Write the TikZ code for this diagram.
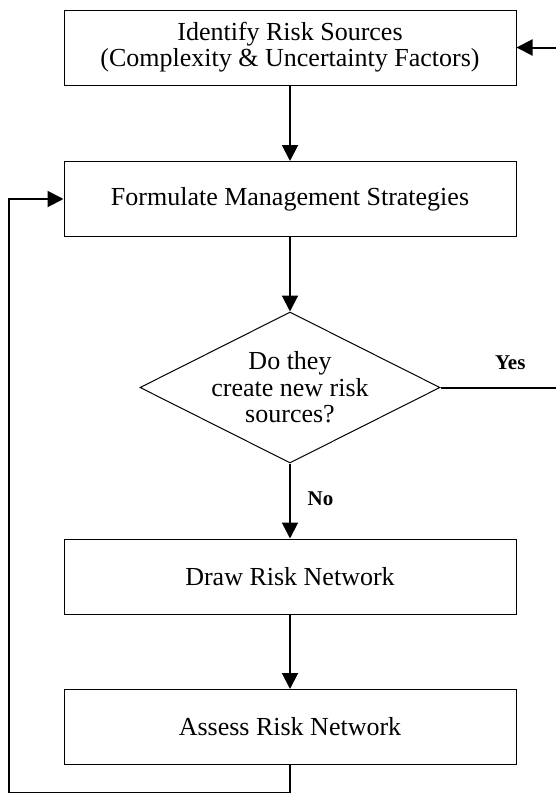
\documentclass[tikz,border=0pt]{standalone}
\usepackage{fontspec}
\setmainfont{Liberation Serif}
\usetikzlibrary{shapes.geometric,arrows.meta}

\tikzset{
  procbox/.style={draw, line width=0.5pt, minimum width=226pt, minimum height=37.5pt,
    inner sep=0pt, align=center, font=\fontsize{13}{13}\selectfont},
  decision/.style={draw, diamond, aspect=2, line width=0.5pt, minimum width=150pt,
    minimum height=75.5pt, inner sep=-2pt, align=center, font=\fontsize{13}{13.25}\selectfont},
  flow/.style={line width=1pt, -{Triangle[length=8pt,width=8pt]}},
  branch/.style={font=\fontsize{10.5}{10.5}\selectfont\bfseries}
}

\begin{document}
\begin{tikzpicture}[x=0.5pt,y=-0.5pt]
%
	\useasboundingbox (0,0) rectangle (556,793);
	\node[procbox] (identify) at (290,47.5) {Identify Risk Sources\\(Complexity \& Uncertainty Factors)};
	\node[procbox] (formulate) at (290,199) {Formulate Management Strategies};
	\node[decision] (newrisk) at (290,387.5) {Do they\\create new risk\\sources?};
	\node[procbox] (drawnet) at (290,576.5) {Draw Risk Network};
	\node[procbox] (assess) at (290,727) {Assess Risk Network};
%
	\coordinate (feedin) at (556,47.5);
	\coordinate (yesout) at (556,387.5);
	\coordinate (loopcorner) at (9,793);
%
	\draw[flow] (feedin) -- (identify.east);
	\draw[flow] (identify) -- (formulate);
	\draw[flow] (formulate) -- (newrisk.north);
	\draw[flow] (newrisk.south) -- node[branch, right=5pt, yshift=1pt] {No} (drawnet);
	\draw[flow] (drawnet) -- (assess);
	\draw[line width=1pt] (newrisk.east) -- node[branch, above=5pt, xshift=6pt] {Yes} (yesout);
	\draw[flow] (assess.south) |- (loopcorner) |- (formulate.west);
%
\end{tikzpicture}
\end{document}
